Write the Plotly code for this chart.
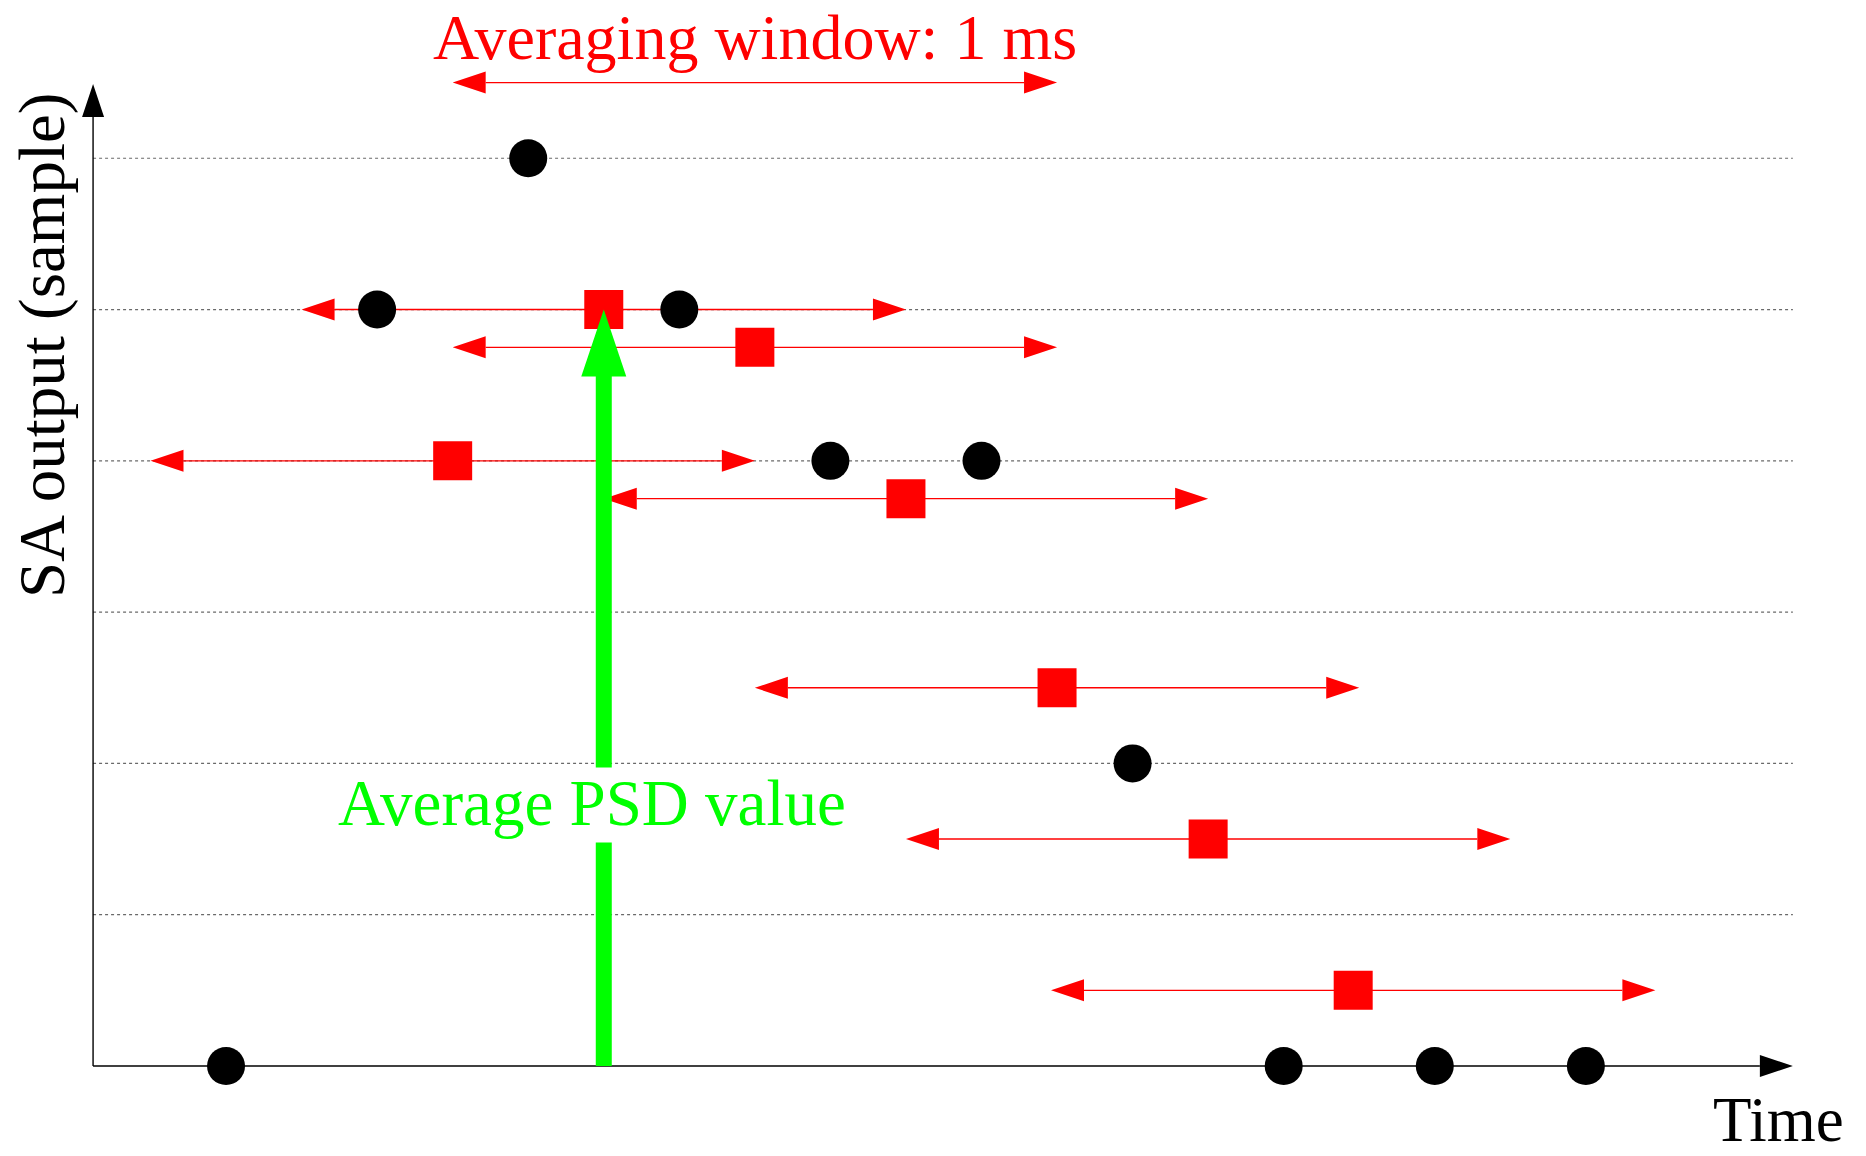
import plotly.graph_objects as go

# ---------------- data ----------------
sample_times = [0, 1, 2, 3, 4, 5, 6, 7, 8, 9]
sample_levels = [0, 5, 6, 5, 4, 4, 2, 0, 0, 0]

average_times = [1.5, 2.5, 3.5, 4.5, 5.5, 6.5, 7.46]
average_levels = [4, 5, 4.75, 3.75, 2.5, 1.5, 0.5]

window_half_width = 2.0          # half of the 4-sample (1 ms) window
grid_levels = [1, 2, 3, 4, 5, 6]
highlight_index = 1              # average pointed at by the green arrow

window_label_center = 3.5
window_label_level = 6.5

title_text = "Averaging window: 1 ms"
psd_text = "Average PSD value"
y_title = "SA output (sample)"
x_title = "Time"

# ---------------- layout constants ----------------
W, H = 1866, 1156
X_RANGE = [-1.496, 10.854]
Y_RANGE = [-0.595, 7.046]
AXIS_T0, AXIS_T1 = -0.88, 10.37
AXIS_TOP = 6.49

DX = (X_RANGE[1] - X_RANGE[0]) / W
DY = (Y_RANGE[1] - Y_RANGE[0]) / H

RED = "#ff0000"
GREEN = "#00ff00"
FONT = "Liberation Serif, Times New Roman, serif"
HEAD_L, HEAD_W = 33, 22


def head(xt, yt, direction, length=HEAD_L, width=HEAD_W):
    """Triangle polygon (closed, with None separator) in data units."""
    if direction == "left":
        return ([xt, xt + length * DX, xt + length * DX, xt, None],
                [yt, yt + width / 2 * DY, yt - width / 2 * DY, yt, None])
    if direction == "right":
        return ([xt, xt - length * DX, xt - length * DX, xt, None],
                [yt, yt + width / 2 * DY, yt - width / 2 * DY, yt, None])
    # up
    return ([xt, xt - width / 2 * DX, xt + width / 2 * DX, xt, None],
            [yt, yt - length * DY, yt - length * DY, yt, None])


fig = go.Figure()

# dotted grid lines
gx, gy = [], []
for lv in grid_levels:
    gx += [AXIS_T0, AXIS_T1, None]
    gy += [lv, lv, None]
fig.add_trace(go.Scatter(x=gx, y=gy, mode="lines",
                         line=dict(color="#6a6a6a", width=1.2, dash="3px,3px"),
                         hoverinfo="skip"))

# axes
fig.add_trace(go.Scatter(x=[AXIS_T0, AXIS_T1 - HEAD_L * DX, None, AXIS_T0, AXIS_T0],
                         y=[0, 0, None, 0, AXIS_TOP - HEAD_L * DY],
                         mode="lines", line=dict(color="black", width=1.4),
                         hoverinfo="skip"))
ax_hx, ax_hy = head(AXIS_T1, 0, "right")
ay_hx, ay_hy = head(AXIS_T0, AXIS_TOP, "up")
fig.add_trace(go.Scatter(x=ax_hx + ay_hx, y=ax_hy + ay_hy, mode="lines",
                         fill="toself", fillcolor="black",
                         line=dict(width=0, color="black"), hoverinfo="skip"))

# red window arrows (one per average, plus the labelled one on top)
centers = average_times + [window_label_center]
levels = average_levels + [window_label_level]
lx, ly, hx, hy = [], [], [], []
for c, v in zip(centers, levels):
    left, right = c - window_half_width, c + window_half_width
    lx += [left + HEAD_L * DX, right - HEAD_L * DX, None]
    ly += [v, v, None]
    a, b = head(left, v, "left")
    hx += a; hy += b
    a, b = head(right, v, "right")
    hx += a; hy += b
fig.add_trace(go.Scatter(x=lx, y=ly, mode="lines",
                         line=dict(color=RED, width=1.4), hoverinfo="skip"))
fig.add_trace(go.Scatter(x=hx, y=hy, mode="lines", fill="toself",
                         fillcolor=RED, line=dict(width=0, color=RED),
                         hoverinfo="skip"))

# red squares: averaged values
fig.add_trace(go.Scatter(x=average_times, y=average_levels, mode="markers",
                         marker=dict(symbol="square", size=39, color=RED,
                                     line=dict(width=0)),
                         cliponaxis=False))

# black dots: samples
fig.add_trace(go.Scatter(x=sample_times, y=sample_levels, mode="markers",
                         marker=dict(symbol="circle", size=38, color="black",
                                     line=dict(width=0)),
                         cliponaxis=False))

# green arrow to the highlighted average
gxp = average_times[highlight_index]
gtop = average_levels[highlight_index]
G_HEAD_L, G_HEAD_W = 67, 45
psd_label_y = 1.725
gap = 37.5 * DY
head_base = gtop - G_HEAD_L * DY
fig.add_trace(go.Scatter(x=[gxp, gxp, None, gxp, gxp],
                         y=[0, psd_label_y - gap, None, psd_label_y + gap, head_base + 1 * DY],
                         mode="lines", line=dict(color=GREEN, width=16),
                         hoverinfo="skip"))
ghx, ghy = head(gxp, gtop, "up", G_HEAD_L, G_HEAD_W)
fig.add_trace(go.Scatter(x=ghx, y=ghy, mode="lines", fill="toself",
                         fillcolor=GREEN, line=dict(width=0, color=GREEN),
                         hoverinfo="skip"))

# text
annotations = [
    dict(x=window_label_center, y=6.80, text=title_text,
         font=dict(family=FONT, size=64, color=RED)),
    dict(x=2.42, y=psd_label_y + 0.015, text=psd_text,
         font=dict(family=FONT, size=65, color=GREEN)),
    dict(x=-1.218, y=4.765, text=y_title, textangle=-90,
         font=dict(family=FONT, size=65, color="black")),
    dict(x=10.278, y=-0.36, text=x_title,
         font=dict(family=FONT, size=63, color="black")),
]
for a in annotations:
    a.update(xref="x", yref="y", showarrow=False, xanchor="center", yanchor="middle")

fig.update_layout(
    width=W, height=H,
    margin=dict(l=0, r=0, t=0, b=0),
    paper_bgcolor="white", plot_bgcolor="white",
    showlegend=False,
    xaxis=dict(range=X_RANGE, visible=False, fixedrange=True),
    yaxis=dict(range=Y_RANGE, visible=False, fixedrange=True),
    annotations=annotations,
)

fig.write_html("out.html", config={"displayModeBar": False},
               post_script="document.body.style.margin='0';document.body.style.overflow='hidden';")
